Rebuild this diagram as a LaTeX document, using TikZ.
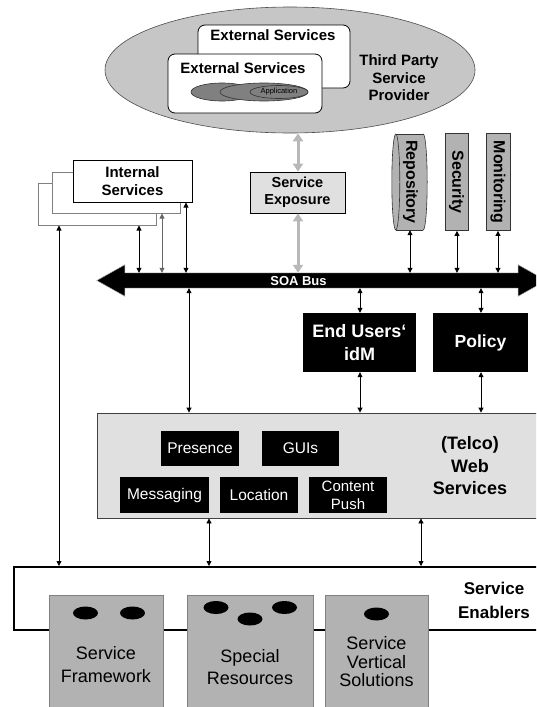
\documentclass[tikz,border=0pt]{standalone}
\usepackage{fontspec}
\setmainfont{Liberation Sans}
\usetikzlibrary{shapes.geometric,arrows.meta}
\definecolor{lgray}{HTML}{E0E0E0}
\definecolor{mgray}{HTML}{B2B2B2}
\definecolor{egray}{HTML}{C6C6C6}
\definecolor{dgray}{HTML}{808080}
\definecolor{agray}{HTML}{B8B8B8}

\begin{document}
\begin{tikzpicture}[x=1pt,y=-1pt,
  box/.style={rectangle,inner sep=0pt,align=center},
  lbl/.style={inner sep=0pt,align=center},
  link/.style={{Triangle[length=5pt,width=5pt]}-{Triangle[length=5pt,width=5pt]},line width=0.8pt},
  glink/.style={{Triangle[length=8pt,width=10pt]}-{Triangle[length=8pt,width=10pt]},line width=3pt,draw=agray},
  darkbox/.style={box,fill=black,text=white,font=\fontsize{15.5}{18}\selectfont},
  enabler/.style={box,fill=mgray,draw=dgray,line width=0.8pt},
  blob/.style={ellipse,fill=black,minimum width=25pt,minimum height=13pt,inner sep=0pt},
  vtext/.style={lbl,rotate=-90,font=\fontsize{16}{18}\selectfont\bfseries},
]
\useasboundingbox (0,0) rectangle (536,707);
\clip (0,0) rectangle (536,707);

% third party service provider
\node[ellipse,draw=black!70,fill=egray,line width=0.6pt,minimum width=370pt,minimum height=126pt,inner sep=0pt] (tpsp) at (290,70) {};
\node[box,draw=black,fill=white,rounded corners=7pt,line width=0.8pt,minimum width=152pt,minimum height=63pt] (extB) at (274,56.5) {};
\node[lbl,font=\fontsize{15}{17}\selectfont\bfseries] (extBt) at (273,35) {External Services};
\node[box,draw=black,fill=white,rounded corners=7pt,line width=0.8pt,minimum width=154pt,minimum height=59pt] (extF) at (245,83.5) {};
\node[lbl,font=\fontsize{15}{17}\selectfont\bfseries] (extFt) at (243,68) {External Services};
\node[ellipse,draw=black!80,fill=dgray,line width=0.6pt,minimum width=62pt,minimum height=18pt,inner sep=0pt] (app1) at (222,92) {};
\node[ellipse,draw=black!80,fill=dgray,line width=0.6pt,minimum width=88pt,minimum height=18pt,inner sep=0pt] (app2) at (264,92) {};
\node[ellipse,draw=black!80,fill=dgray,line width=0.6pt,minimum width=58pt,minimum height=13pt,inner sep=0pt,font=\fontsize{7.5}{8}\selectfont] (app3) at (279,92) {Application};
\node[lbl,font=\fontsize{15}{17.5}\selectfont\bfseries] (tpspt) at (399,78) {Third Party\\Service\\Provider};

% service exposure
\node[box,draw=black,fill=lgray,line width=0.8pt,minimum width=95pt,minimum height=41pt,font=\fontsize{14.5}{17}\selectfont\bfseries] (se) at (297.5,192.5) {Service\\Exposure};

% internal services (stacked)
\node[box,draw=dgray,fill=white,line width=1pt,minimum width=118pt,minimum height=42pt] (intA) at (97,204) {};
\node[box,draw=dgray,fill=white,line width=1pt,minimum width=128pt,minimum height=41pt] (intB) at (116,192.5) {};
\node[box,draw=black,fill=white,line width=1pt,minimum width=119pt,minimum height=42pt,font=\fontsize{15}{18}\selectfont\bfseries] (intC) at (132.5,181) {Internal\\Services};

% repository cylinder
\node[box,minimum width=35pt,minimum height=96pt] (repo) at (409.5,182) {};
\draw[fill=mgray,draw=black!80,line width=0.6pt] ([xshift=-4pt]repo.east) ellipse [x radius=4pt,y radius=48pt];
\fill[mgray] ([xshift=4pt]repo.north west) rectangle ([xshift=-4pt]repo.south east);
\draw[black!80,line width=0.6pt] ([xshift=4pt]repo.north west) -- ([xshift=-4pt]repo.north east)
  ([xshift=4pt]repo.south west) -- ([xshift=-4pt]repo.south east);
\draw[fill=mgray,draw=black!80,line width=0.6pt] ([xshift=4pt]repo.west) ellipse [x radius=4pt,y radius=48pt];
\node[vtext] (repot) at ([xshift=1pt]repo.center) {Repository};

% security and monitoring
\node[box,draw=black!80,fill=mgray,line width=0.8pt,minimum width=23pt,minimum height=97pt] (sec) at (456.5,182) {};
\node[vtext] (sect) at (sec.center) {Security};
\node[box,draw=black!80,fill=mgray,line width=0.8pt,minimum width=24pt,minimum height=97pt] (mon) at (498,182) {};
\node[vtext] (mont) at (mon.center) {Monitoring};

% SOA bus
\node[box,fill=black,minimum width=393pt,minimum height=15pt] (bus) at (321.5,280.5) {};
\fill[black] (bus.north west) -- ([yshift=8pt]bus.north west) -- ([xshift=-28pt]bus.west)
  -- ([yshift=-8pt]bus.south west) -- (bus.south west) -- cycle;
\fill[black] (bus.north east) -- ([yshift=8pt]bus.north east) -- ([xshift=28pt]bus.east)
  -- ([yshift=-8pt]bus.south east) -- (bus.south east) -- cycle;
\draw[gray!70,line width=0.5pt] (bus.north west) -- ([yshift=8pt]bus.north west) -- ([xshift=-28pt]bus.west)
  -- ([yshift=-8pt]bus.south west) -- (bus.south west) -- (bus.south east) -- ([yshift=-8pt]bus.south east)
  -- ([xshift=28pt]bus.east) -- ([yshift=8pt]bus.north east) -- (bus.north east) -- cycle;
\node[lbl,text=white,font=\fontsize{13}{15}\selectfont\bfseries] (bust) at (298.5,281) {SOA Bus};

% identity management and policy
\node[box,fill=black,text=white,minimum width=113pt,minimum height=59pt,font=\fontsize{18}{23}\selectfont\bfseries] (eu) at (359.5,342.5) {End Users‘\\idM};
\node[box,fill=black,text=white,minimum width=95pt,minimum height=59pt,font=\fontsize{17.5}{20}\selectfont\bfseries] (pol) at (480.5,342.5) {Policy};

% (telco) web services
\node[box,draw=black!75,fill=lgray,line width=0.8pt,minimum width=443pt,minimum height=105pt] (ws) at (318.5,465.5) {};
\node[darkbox,minimum width=78pt,minimum height=35pt] (pres) at (200,448.5) {Presence};
\node[darkbox,minimum width=77pt,minimum height=35pt] (gui) at (300.5,448.5) {GUIs};
\node[darkbox,minimum width=89pt,minimum height=36pt] (msg) at (164.5,495) {Messaging};
\node[darkbox,minimum width=78pt,minimum height=36pt] (loc) at (259,495) {Location};
\node[darkbox,minimum width=78pt,minimum height=36pt,font=\fontsize{15}{18}\selectfont] (cp) at (348,495) {Content\\Push};
\node[lbl,font=\fontsize{18}{22.5}\selectfont\bfseries] (wst) at (470,466) {(Telco)\\Web\\Services};

% service enablers
\node[box,draw=black,fill=white,line width=2pt,minimum width=531pt,minimum height=63pt] (enab) at (279.5,598.5) {};
\node[lbl,font=\fontsize{17}{24}\selectfont\bfseries] (enabt) at (494,600) {Service\\Enablers};
\node[enabler,minimum width=114pt,minimum height=117pt] (sf) at (106,653.5) {};
\node[enabler,minimum width=126pt,minimum height=117pt] (sr) at (250,653.5) {};
\node[enabler,minimum width=103pt,minimum height=117pt] (svs) at (376.5,653.5) {};
\node[blob] (sfb1) at (85.5,613) {};
\node[blob] (sfb2) at (132.5,613) {};
\node[blob] (srb1) at (216,607.5) {};
\node[blob] (srb2) at (250,619) {};
\node[blob] (srb3) at (284.5,607.5) {};
\node[blob] (svsb) at (376.5,614) {};
\node[lbl,font=\fontsize{18}{23}\selectfont] (sft) at (106,665) {Service\\Framework};
\node[lbl,font=\fontsize{18}{22}\selectfont] (srt) at (250,667) {Special\\Resources};
\node[lbl,font=\fontsize{18}{18.5}\selectfont] (svst) at (376.5,662) {Service\\Vertical\\Solutions};

% connectors
\draw[glink] (298,0 |- tpsp.south) -- (298,0 |- se.north);
\draw[glink] (298,0 |- se.south) -- (298,0 |- bus.north);
\draw[link] (139,0 |- intA.south) -- (139,0 |- bus.north);
\draw[link,draw=black!60] (162,0 |- intB.south) -- (162,0 |- bus.north);
\draw[link] (186,0 |- intC.south) -- (186,0 |- bus.north);
\draw[link] (59,0 |- intA.south) -- (59,0 |- enab.north);
\draw[link] (410,0 |- repo.south) -- (410,0 |- bus.north);
\draw[link] (457,0 |- sec.south) -- (457,0 |- bus.north);
\draw[link] (498,0 |- mon.south) -- (498,0 |- bus.north);
\draw[link] (189,0 |- bus.south) -- (189,0 |- ws.north);
\draw[link] (360,0 |- bus.south) -- (360,0 |- eu.north);
\draw[link] (481,0 |- bus.south) -- (481,0 |- pol.north);
\draw[link] (360,0 |- eu.south) -- (360,0 |- ws.north);
\draw[link] (481,0 |- pol.south) -- (481,0 |- ws.north);
\draw[link] (209,0 |- ws.south) -- (209,0 |- enab.north);
\draw[link] (421,0 |- ws.south) -- (421,0 |- enab.north);
\end{tikzpicture}
\end{document}
